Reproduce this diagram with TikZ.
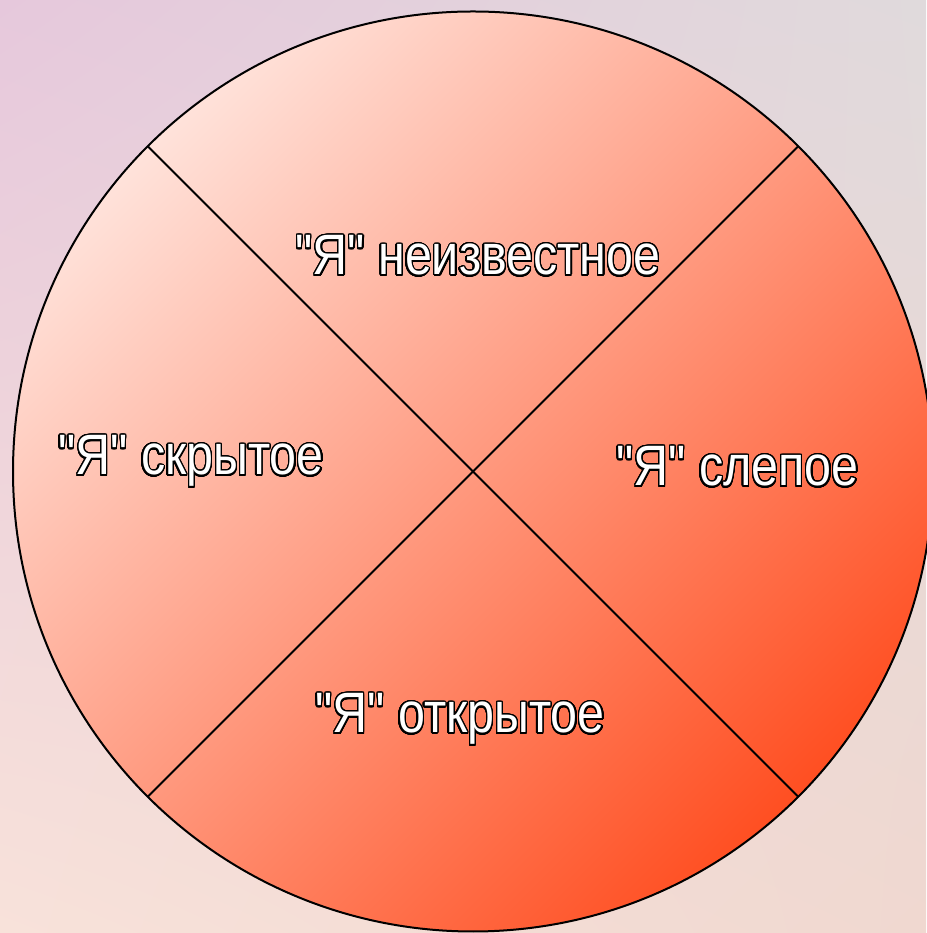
\documentclass[tikz,border=0pt]{standalone}
\usepackage{fontspec}
\setmainfont{Liberation Sans}
\newfontfamily\plainfont{Liberation Sans}[Ligatures=TeXOff]
\usepackage[copies]{contour}
\contournumber{32}
\contourlength{1.6pt}
\usetikzlibrary{calc,shadings}
\definecolor{bgUL}{HTML}{E6C8DC}
\definecolor{bgUR}{HTML}{E0DADC}
\definecolor{bgLL}{HTML}{F8E2DA}
\definecolor{bgLR}{HTML}{F0D8D0}
\definecolor{cTop}{HTML}{FFE2DA}
\definecolor{cMid}{HTML}{FF9C7E}
\definecolor{cBot}{HTML}{FF4F22}
\newcommand{\mylbl}[1]{\scalebox{0.85}[1]{\contour{black}{\textcolor{white}{#1}}}}
\tikzset{
  lbl/.style={anchor=base, inner sep=0pt, font=\plainfont\fontsize{57}{60}\selectfont},
  rim/.style={draw=black, line width=2pt},
  spoke/.style={draw=black, line width=1.8pt}
}
\begin{document}
\begin{tikzpicture}[x=1pt,y=1pt]
\useasboundingbox (0,0) rectangle (926,933);
\shade[upper left=bgUL, upper right=bgUR, lower left=bgLL, lower right=bgLR] (0,0) rectangle (926,933);
\coordinate (c) at (473,461.5);
\shade[top color=cTop, middle color=cMid, bottom color=cBot, shading angle=45] (c) circle (460);
\coordinate (ne) at ($(c)+(45:460)$);
\coordinate (nw) at ($(c)+(135:460)$);
\coordinate (sw) at ($(c)+(225:460)$);
\coordinate (se) at ($(c)+(315:460)$);
\draw[spoke] (nw) -- (se);
\draw[spoke] (ne) -- (sw);
\draw[rim] (c) circle (460);
\node[lbl] (top) at (478,658) {\mylbl{"Я" неизвестное}};
\node[lbl] (left) at (191,458) {\mylbl{"Я" скрытое}};
\node[lbl] (right) at (737.5,447) {\mylbl{"Я" слепое}};
\node[lbl] (bottom) at (460,200) {\mylbl{"Я" открытое}};
\end{tikzpicture}
\end{document}
